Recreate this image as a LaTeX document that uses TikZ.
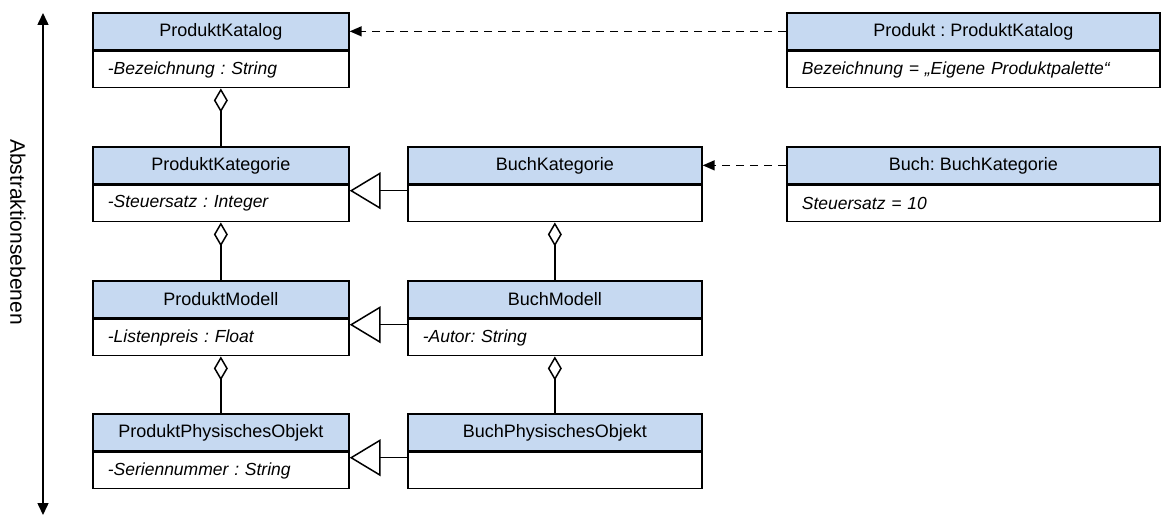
\documentclass[tikz,border=0pt]{standalone}
\usepackage{fontspec}
\setmainfont{Liberation Sans}
\usetikzlibrary{arrows.meta,calc}

\definecolor{hdrblue}{RGB}{198,217,241}

\tikzset{
  hdr/.style={draw=black, fill=hdrblue, line width=1.7pt, inner sep=0pt,
              minimum height=37pt, align=center,
              font=\fontsize{18}{21}\selectfont\frenchspacing},
  att/.style={draw=black, fill=white, line width=1.7pt, inner xsep=15pt, inner ysep=0pt,
              minimum height=36pt, align=left,
              font=\fontsize{17.5}{20}\selectfont\itshape\frenchspacing},
  aggr/.style={line width=1.5pt, -{Diamond[open, length=24pt, width=14pt, line width=1.5pt]}},
  gen/.style={line width=1.5pt, -{Triangle[open, length=31pt, width=37pt, line width=1.5pt]}},
  inst/.style={line width=1.5pt, dash pattern=on 8pt off 6pt,
               -{Triangle[length=12pt, width=10pt]}},
  levelaxis/.style={line width=1.5pt, {Triangle[length=12pt, width=11pt]}-{Triangle[length=12pt, width=11pt]}},
}

% class box: name, left x, top y, width, title, attribute line
\newcommand\umlclass[6]{%
  \pgfmathsetmacro\umltw{#4-30}%
  \node[hdr, minimum width=#4pt, anchor=north west] (#1-h) at (#2,#3) {#5};
  \node[att, text width=\umltw pt, anchor=north] (#1-a) at (#1-h.south) {#6};
}

\begin{document}
\begin{tikzpicture}[x=1pt, y=-1pt]
  \useasboundingbox (0,0) rectangle (1161,516);

  % abstraction axis
  \coordinate (axtop) at (43,13);
  \coordinate (axbot) at (43,515);
  \draw[levelaxis] (axbot) -- (axtop);
  \node[rotate=-90, font=\fontsize{21}{24}\selectfont] (axlabel) at (18,232) {Abstraktionsebenen};

  % generic product hierarchy
  \umlclass{pkat}{92}{12}{256}{ProduktKatalog}{-Bezeichnung : String}
  \umlclass{pkg}{92}{146}{256}{ProduktKategorie}{-Steuersatz : Integer}
  \umlclass{pmod}{92}{280}{256}{ProduktModell}{-Listenpreis : Float}
  \umlclass{pobj}{92}{413}{256}{ProduktPhysischesObjekt}{-Seriennummer : String}

  % book specialisation
  \umlclass{bkg}{407}{146}{294}{BuchKategorie}{}
  \umlclass{bmod}{407}{280}{294}{BuchModell}{-Autor: String}
  \umlclass{bobj}{407}{413}{294}{BuchPhysischesObjekt}{}

  % instances
  \umlclass{ikat}{786}{12}{373}{Produkt : ProduktKatalog}{Bezeichnung = „Eigene Produktpalette“}
  \umlclass{ibkg}{786}{146}{373}{Buch: BuchKategorie}{Steuersatz = 10}

  % aggregations
  \draw[aggr] (pkg-h.north) -- (pkat-a.south);
  \draw[aggr] (pmod-h.north) -- (pkg-a.south);
  \draw[aggr] (pobj-h.north) -- (pmod-a.south);
  \draw[aggr] (bmod-h.north) -- (bkg-a.south);
  \draw[aggr] (bobj-h.north) -- (bmod-a.south);

  % generalisations
  \draw[gen] ($(bkg-a.north west)+(0,6)$) coordinate (g1) -- (g1 -| pkg-a.east);
  \draw[gen] ($(bmod-a.north west)+(0,6)$) coordinate (g2) -- (g2 -| pmod-a.east);
  \draw[gen] ($(bobj-a.north west)+(0,6)$) coordinate (g3) -- (g3 -| pobj-a.east);

  % instance-of relations
  \draw[inst] (ikat-h.west) -- (pkat-h.east);
  \draw[inst] (ibkg-h.west) -- (bkg-h.east);
\end{tikzpicture}
\end{document}
